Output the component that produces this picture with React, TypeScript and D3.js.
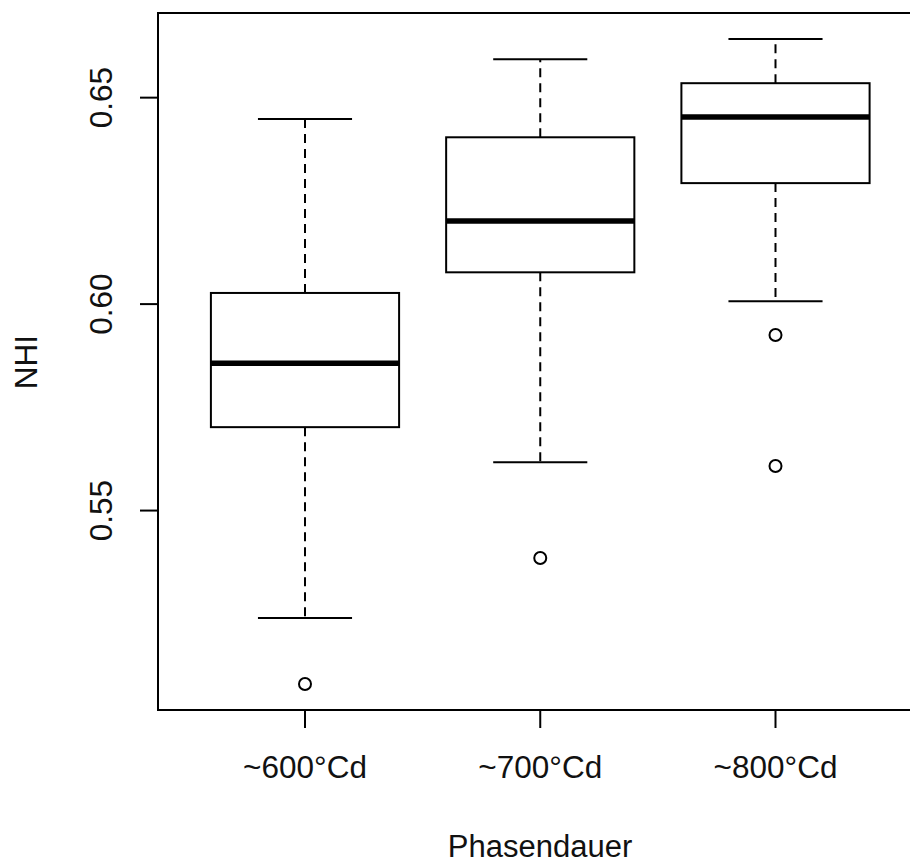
import React from "react";
import * as d3 from "d3";

const categories = ["~600°Cd", "~700°Cd", "~800°Cd"];
const whiskerLow = [0.524, 0.5617, 0.6007];
const q1 = [0.5702, 0.6077, 0.6293];
const median = [0.5857, 0.6201, 0.6453];
const q3 = [0.6027, 0.6404, 0.6535];
const whiskerHigh = [0.6448, 0.6593, 0.6642];
const outliers: number[][] = [[0.508], [0.5385], [0.5925, 0.5608]];
const yTicks = [0.55, 0.6, 0.65];

const W = 910;
const H = 864;
const left = 158;
const top = 13;
const bottom = 710;
const right = 930;

export default function App() {
  const y = d3.scaleLinear().domain([0.5017, 0.6705]).range([bottom, top]);
  const x = d3.scaleLinear().domain([1, 3]).range([305, 775.5]);
  const unit = x(2) - x(1);
  const boxHalf = 0.4 * unit;
  const capHalf = 0.2 * unit;
  const font = "'Liberation Sans', Arial, sans-serif";

  return (
    <svg
      width={W}
      height={H}
      style={{ position: "absolute", left: 0, top: 0, background: "#fff" }}
      fontFamily={font}
    >
      <rect x={0} y={0} width={W} height={H} fill="#fff" />
      {categories.map((c, i) => {
        const cx = x(i + 1);
        return (
          <g key={c}>
            <line x1={cx} x2={cx} y1={y(q3[i])} y2={y(whiskerHigh[i])} stroke="#000" strokeWidth={2} strokeDasharray="9,6" />
            <line x1={cx} x2={cx} y1={y(q1[i])} y2={y(whiskerLow[i])} stroke="#000" strokeWidth={2} strokeDasharray="9,6" />
            <line x1={cx - capHalf} x2={cx + capHalf} y1={y(whiskerHigh[i])} y2={y(whiskerHigh[i])} stroke="#000" strokeWidth={2} />
            <line x1={cx - capHalf} x2={cx + capHalf} y1={y(whiskerLow[i])} y2={y(whiskerLow[i])} stroke="#000" strokeWidth={2} />
            <rect x={cx - boxHalf} y={y(q3[i])} width={2 * boxHalf} height={y(q1[i]) - y(q3[i])} fill="#fff" stroke="#000" strokeWidth={2} />
            <line x1={cx - boxHalf} x2={cx + boxHalf} y1={y(median[i])} y2={y(median[i])} stroke="#000" strokeWidth={5.5} />
            {outliers[i].map((o, j) => (
              <circle key={j} cx={cx} cy={y(o)} r={6} fill="none" stroke="#000" strokeWidth={2} />
            ))}
            <line x1={cx} x2={cx} y1={bottom} y2={bottom + 18} stroke="#000" strokeWidth={2} />
            <text x={cx} y={778} textAnchor="middle" fontSize={31.5} fill="#111">{c}</text>
          </g>
        );
      })}
      {yTicks.map((t) => (
        <g key={t}>
          <line x1={left - 18} x2={left} y1={y(t)} y2={y(t)} stroke="#000" strokeWidth={2} />
          <text transform={`translate(112,${y(t)}) rotate(-90)`} textAnchor="middle" fontSize={31.5} fill="#111">
            {d3.format(".2f")(t)}
          </text>
        </g>
      ))}
      <rect x={left} y={top} width={right - left} height={bottom - top} fill="none" stroke="#000" strokeWidth={2} />
      <text transform={`translate(37,362) rotate(-90)`} textAnchor="middle" fontSize={31.5} fill="#111">NHI</text>
      <text x={540} y={857} textAnchor="middle" fontSize={31} fill="#111">Phasendauer</text>
    </svg>
  );
}
